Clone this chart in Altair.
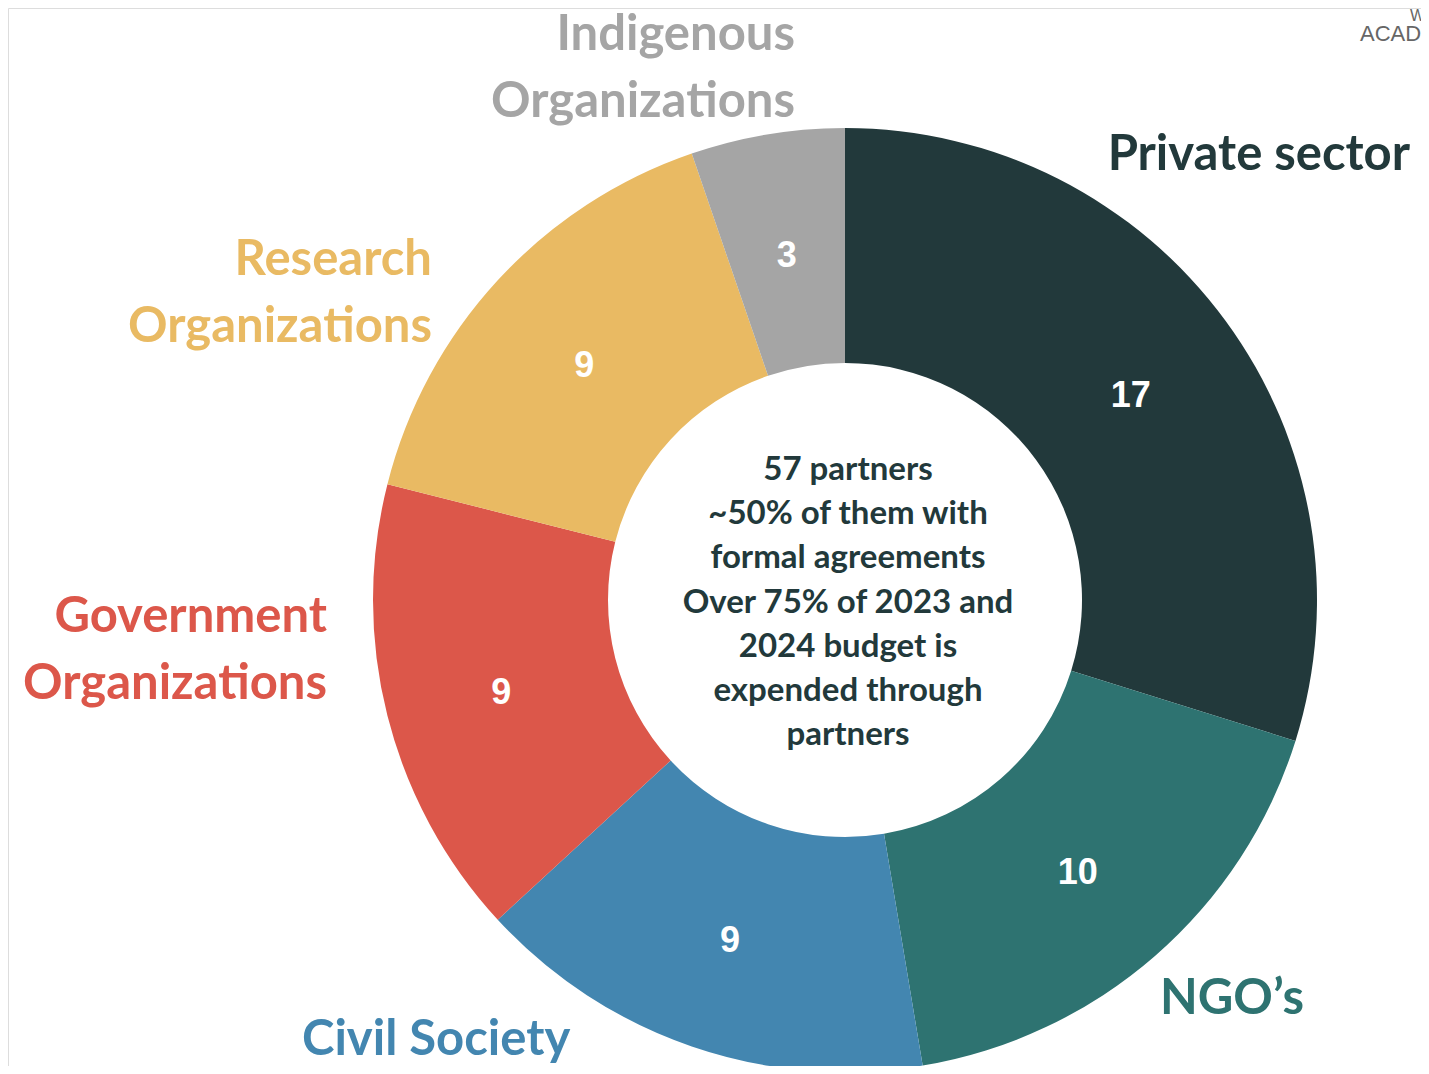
import altair as alt
import pandas as pd

# ---- data ----
categories = ["Private sector", "NGO’s", "Civil Society", "Government Organizations",
              "Research Organizations", "Indigenous Organizations"]
values = [17, 10, 9, 9, 9, 3]
colors = ["#22393B", "#2E7371", "#4386B0", "#DC574A", "#E9BA63", "#A5A5A5"]
center_lines = ["57 partners", "~50% of them with", "formal agreements",
                "Over 75% of 2023 and", "2024 budget is", "expended through", "partners"]

# ---- layout (label placement, pixels in chart space; y = first line) ----
label_text = ["Private sector", "NGO’s", "Civil Society", "Government\nOrganizations",
              "Research\nOrganizations", "Indigenous\nOrganizations"]
label_x = [1402, 1152, 294, 319, 424, 787]
label_y = [147, 991, 1032, 609, 252, 27]
label_align = ["right", "left", "left", "right", "right", "right"]

CX, CY = 837, 592
R_IN, R_OUT = 237, 472
W, H = 1413, 1058

df = pd.DataFrame({"category": categories, "value": values, "idx": range(len(values))})
lab = pd.DataFrame({"category": categories, "text": label_text, "lx": label_x,
                    "ly": label_y, "align": label_align})

color_scale = alt.Scale(domain=categories, range=colors)

base = alt.Chart(df).encode(
    theta=alt.Theta("value:Q", stack=True),
    order=alt.Order("idx:Q"),
)

arcs = base.mark_arc(innerRadius=R_IN, outerRadius=R_OUT).encode(
    color=alt.Color("category:N", scale=color_scale, legend=None),
    x=alt.value(CX), y=alt.value(CY),
)

vals = base.mark_text(radius=(R_IN + R_OUT) / 2, font="Liberation Sans", fontWeight="bold",
                      fontSize=36, color="white", baseline="middle", align="center", dy=6).encode(
    text=alt.Text("value:Q"),
    x=alt.value(CX), y=alt.value(CY),
)

def label_layer(al):
    return alt.Chart(lab[lab["align"] == al]).mark_text(
        font="Lato", fontWeight="bold", fontSize=49, align=al, baseline="middle",
        lineBreak="\n", lineHeight=67,
    ).encode(
        x=alt.X("lx:Q", scale=alt.Scale(domain=[0, W], range=[0, W]), axis=None),
        y=alt.Y("ly:Q", scale=alt.Scale(domain=[0, H], range=[0, H]), axis=None),
        text="text:N",
        color=alt.Color("category:N", scale=color_scale, legend=None),
    )

center = alt.Chart(pd.DataFrame({"t": ["\n".join(center_lines)]})).mark_text(
    font="Lato", fontWeight="bold", fontSize=33, color="#22393B", align="center",
    baseline="middle", lineBreak="\n", lineHeight=44.2,
).encode(text="t:N", x=alt.value(CX + 3), y=alt.value(462))

logo_w = alt.Chart(pd.DataFrame({"t": ["W"]})).mark_text(
    font="Liberation Sans", fontSize=16, color="#666666", align="left", baseline="top",
).encode(text="t:N", x=alt.value(1402), y=alt.value(0))

logo_a = alt.Chart(pd.DataFrame({"t": ["ACADE"]})).mark_text(
    font="Liberation Sans", fontSize=22, color="#666666", align="left", baseline="top",
).encode(text="t:N", x=alt.value(1352), y=alt.value(16))

chart = alt.layer(arcs, vals, label_layer("right"), label_layer("left"), center,
                  logo_w, logo_a).properties(
    width=W, height=H, padding=0, autosize=alt.AutoSizeParams(type="none"),
).configure_view(strokeWidth=0, stroke="transparent").configure(background="white")

chart.save("out.html", embed_options={"renderer": "svg", "actions": False})
